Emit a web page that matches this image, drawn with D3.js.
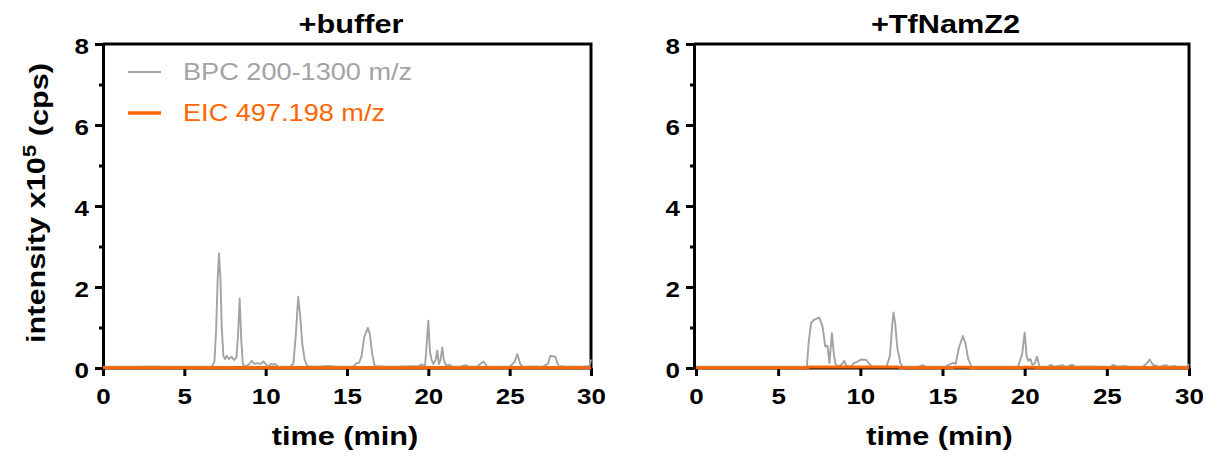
<!DOCTYPE html>
<html lang="en">
<head>
<meta charset="UTF-8">
<title>BPC / EIC chromatograms</title>
<script src="https://d3js.org/d3.v7.min.js"></script>
<style>
    body { margin: 0; background: #fff; }
    svg { display: block; }
    text { font-family: "Liberation Sans", Arial, sans-serif; }
</style>
</head>
<body>
<svg width="1209" height="459"></svg>
<script>
    // panel titles
    const panelTitles = ["+buffer", "+TfNamZ2"];
    const xTicks = [0, 5, 10, 15, 20, 25, 30];
    const yTicks = [0, 2, 4, 6, 8];
    const yMinorTicks = [1, 3, 5, 7];
    const legendLabels = ["BPC 200-1300 m/z", "EIC 497.198 m/z"];

    // [time (min), intensity x10^5]
    const bufferBPC = [[0,0.03],[1,0.035],[2,0.03],[3,0.04],[4,0.03],[5,0.035],[6,0.03],[6.7,0.04],[6.85,0.15],[6.95,0.9],[7.05,2.2],[7.13,2.83],[7.22,2.2],[7.3,1.0],[7.4,0.3],[7.5,0.22],[7.6,0.3],[7.75,0.22],[7.9,0.28],[8.05,0.2],[8.2,0.25],[8.3,0.8],[8.4,1.72],[8.5,0.7],[8.6,0.08],[8.8,0.04],[9.0,0.1],[9.15,0.18],[9.3,0.1],[9.5,0.12],[9.7,0.1],[9.85,0.16],[10.0,0.1],[10.15,0.02],[10.3,0.1],[10.45,0.08],[10.6,0.1],[10.75,0.04],[11.0,0.03],[11.5,0.04],[11.7,0.1],[11.85,0.8],[12.0,1.76],[12.12,1.3],[12.25,0.6],[12.4,0.2],[12.55,0.05],[13,0.03],[13.8,0.05],[14.5,0.03],[15.4,0.04],[15.6,0.12],[15.75,0.13],[15.9,0.3],[16.05,0.75],[16.28,0.99],[16.4,0.85],[16.55,0.35],[16.7,0.05],[17.5,0.03],[18.5,0.04],[19.4,0.05],[19.6,0.09],[19.8,0.05],[19.9,0.6],[20.0,1.17],[20.1,0.4],[20.2,0.2],[20.3,0.1],[20.45,0.2],[20.55,0.43],[20.65,0.1],[20.75,0.2],[20.86,0.51],[20.95,0.2],[21.1,0.05],[21.3,0.08],[21.5,0.03],[22.0,0.04],[22.3,0.07],[22.5,0.03],[23.0,0.04],[23.4,0.16],[23.6,0.04],[24.0,0.03],[25.0,0.03],[25.3,0.15],[25.47,0.34],[25.65,0.1],[25.8,0.03],[26.5,0.04],[27.0,0.03],[27.35,0.1],[27.5,0.3],[27.8,0.28],[28.0,0.05],[28.5,0.03],[29.0,0.04],[29.5,0.03],[29.9,0.05],[30,0.21]];
    const bufferEIC = [[0,0.005],[7,0.005],[7.13,0.02],[7.3,0.005],[9,0.005],[9.1,0.02],[9.2,0.005],[30,0.005]];

    const namzBPC = [[0,0.03],[1.5,0.035],[3,0.03],[4.5,0.035],[6,0.03],[6.75,0.04],[6.85,0.6],[7.0,1.1],[7.15,1.18],[7.35,1.22],[7.5,1.25],[7.7,1.02],[7.87,0.53],[8.0,0.55],[8.12,0.12],[8.27,0.86],[8.4,0.3],[8.5,0.08],[8.7,0.04],[8.9,0.1],[9.02,0.18],[9.15,0.05],[9.4,0.03],[9.6,0.12],[9.8,0.15],[10.05,0.21],[10.35,0.2],[10.6,0.08],[10.8,0.03],[11.6,0.04],[11.8,0.3],[11.95,1.1],[12.02,1.37],[12.12,1.1],[12.25,0.5],[12.45,0.1],[12.6,0.03],[13.5,0.03],[13.8,0.07],[14.0,0.03],[15.2,0.04],[15.5,0.1],[15.65,0.13],[15.8,0.1],[16.0,0.5],[16.24,0.79],[16.4,0.6],[16.55,0.25],[16.75,0.04],[18.5,0.03],[19.6,0.04],[19.85,0.35],[20.0,0.88],[20.12,0.3],[20.22,0.18],[20.35,0.22],[20.47,0.08],[20.6,0.1],[20.75,0.28],[20.9,0.04],[21.4,0.03],[21.6,0.08],[21.8,0.03],[22.3,0.07],[22.5,0.03],[22.9,0.08],[23.1,0.03],[23.5,0.04],[24.0,0.04],[25.2,0.03],[25.4,0.08],[25.6,0.04],[26.1,0.05],[26.3,0.03],[27.2,0.04],[27.45,0.12],[27.6,0.21],[27.8,0.08],[28.0,0.06],[28.2,0.03],[28.6,0.07],[28.8,0.03],[29.1,0.05],[29.3,0.03],[29.9,0.04],[30,0.1]];
    const namzEIC = [[0,0.005],[6.8,0.005],[6.9,0.025],[12.3,0.025],[12.4,0.005],[15.6,0.005],[15.7,0.02],[16.6,0.02],[16.7,0.005],[19.8,0.005],[19.9,0.02],[20.6,0.02],[20.7,0.005],[30,0.005]];

    const grey = "#a3a3a3";
    const orange = "#ff6600";
    const stretch = "scale(1.18,1)";   // the original lettering is a bit wide

    const svg = d3.select("svg");

    function drawPanel(opts) {
        const x = d3.scaleLinear().domain([0, 30]).range([opts.x0, opts.x1]);
        const y = d3.scaleLinear().domain([0, 8]).range([368, 44]);
        const g = svg.append("g");

        // frame (top + right)
        g.append("path")
            .attr("d", `M${opts.axisX},44H${opts.x1}V368`)
            .attr("fill", "none").attr("stroke", "#000").attr("stroke-width", 3);

        // y axis
        const ya = g.append("g").attr("transform", `translate(${opts.axisX},0)`)
            .call(d3.axisLeft(y).tickValues(yTicks).tickSize(8).tickPadding(6).tickSizeOuter(0));
        ya.selectAll("text").attr("transform", stretch).attr("x", -12).attr("dy", "0.45em");
        const yb = g.append("g").attr("transform", `translate(${opts.axisX},0)`)
            .call(d3.axisLeft(y).tickValues(yMinorTicks).tickSize(4).tickFormat("").tickSizeOuter(0));
        yb.select(".domain").remove();

        // x axis
        const xa = g.append("g").attr("transform", "translate(0,368)")
            .call(d3.axisBottom(x).tickValues(xTicks).tickSize(8).tickPadding(12).tickSizeOuter(0));
        xa.selectAll("text").attr("transform", stretch);
        xa.select(".domain").attr("d", `M${opts.axisX},0H${opts.x1}`);

        g.selectAll(".domain, .tick line").attr("stroke", "#000").attr("stroke-width", 3);
        g.selectAll(".tick text")
            .attr("fill", "#000")
            .style("font-size", "22px")
            .style("font-weight", "bold");

        const line = d3.line().x(d => x(d[0])).y(d => y(d[1]));

        g.append("path").datum(opts.bpc)
            .attr("d", line).attr("fill", "none")
            .attr("stroke", grey).attr("stroke-width", 1.9).attr("stroke-linejoin", "round");
        g.append("path").datum(opts.eic)
            .attr("d", line).attr("fill", "none")
            .attr("stroke", orange).attr("stroke-width", 3);

        // title
        g.append("g").attr("transform", `translate(${(opts.axisX + opts.x1) / 2 + 4},33)`)
            .append("text").attr("transform", stretch)
            .attr("text-anchor", "middle")
            .style("font-size", "26px").style("font-weight", "bold")
            .text(opts.title);

        // x label
        g.append("g").attr("transform", `translate(${(opts.axisX + opts.x1) / 2 - 2},445)`)
            .append("text").attr("transform", stretch)
            .attr("text-anchor", "middle")
            .style("font-size", "26px").style("font-weight", "bold")
            .text("time (min)");
    }

    drawPanel({ title: panelTitles[0], axisX: 103, x0: 103, x1: 591, bpc: bufferBPC, eic: bufferEIC });
    drawPanel({ title: panelTitles[1], axisX: 694, x0: 696, x1: 1189, bpc: namzBPC, eic: namzEIC });

    // y label
    const yl = svg.append("g").attr("transform", "translate(45,203) rotate(-90)")
        .append("text").attr("transform", stretch)
        .attr("text-anchor", "middle")
        .style("font-size", "26px").style("font-weight", "bold");
    yl.append("tspan").text("intensity x10");
    yl.append("tspan").attr("dy", "-0.45em").style("font-size", "19px").text("5");
    yl.append("tspan").attr("dy", "0.45em").text(" (cps)");

    // legend
    const legend = svg.append("g");
    [[grey, 1.8, 72], [orange, 3.5, 113]].forEach((d, i) => {
        legend.append("line")
            .attr("x1", 128).attr("x2", 161).attr("y1", d[2]).attr("y2", d[2])
            .attr("stroke", d[0]).attr("stroke-width", d[1]);
        legend.append("g").attr("transform", `translate(183,${d[2] + 8})`)
            .append("text").attr("transform", stretch)
            .attr("fill", d[0])
            .style("font-size", "23px")
            .text(legendLabels[i]);
    });
</script>
</body>
</html>
